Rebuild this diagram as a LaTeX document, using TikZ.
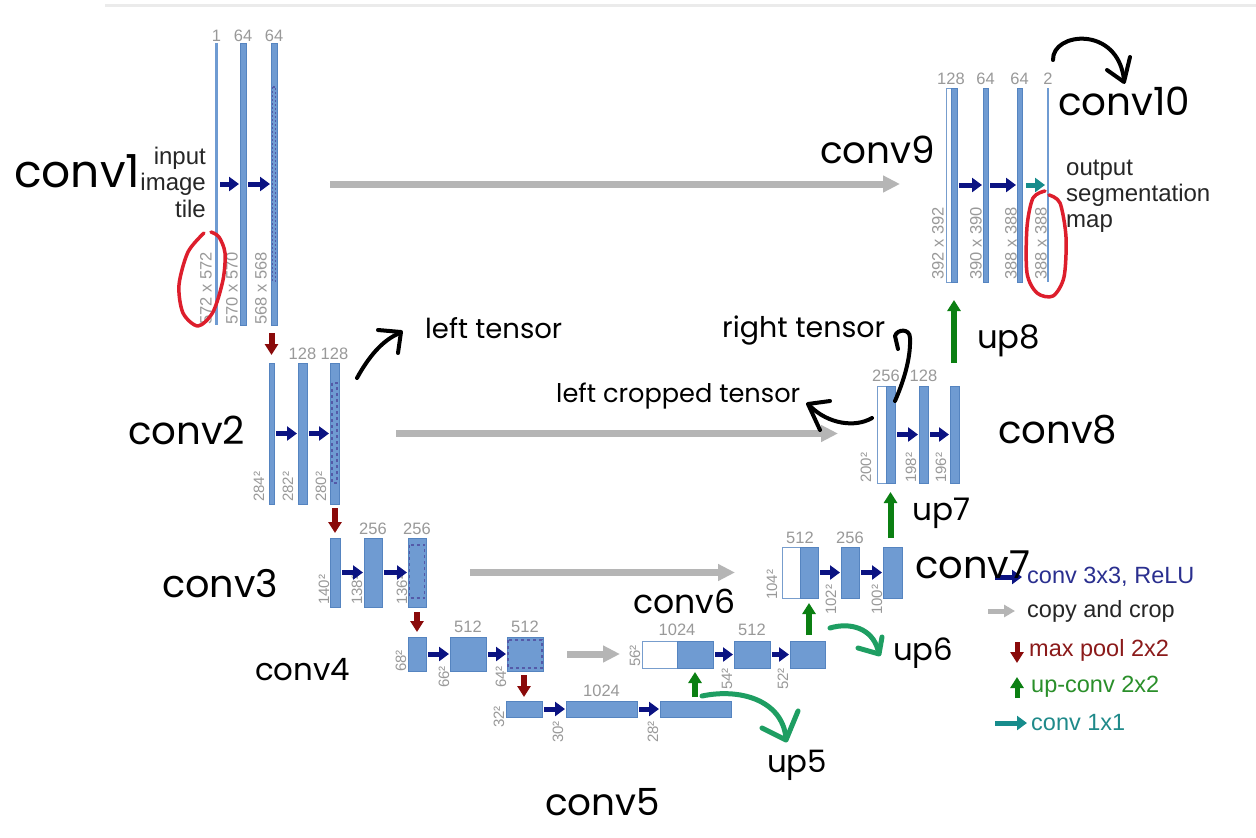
\documentclass[tikz,border=0pt]{standalone}
\usepackage{fontspec}
\usepackage{graphicx}
\setmainfont{Liberation Sans}
\newfontfamily\hand{Poppins}
\usetikzlibrary{arrows.meta,calc}
\definecolor{barfill}{HTML}{6F9BD2}
\definecolor{barline}{HTML}{5584C0}
\definecolor{lblgray}{HTML}{999999}
\definecolor{cnavy}{HTML}{0B1382}
\definecolor{cred}{HTML}{8A0A0A}
\definecolor{cgreen}{HTML}{0B7F12}
\definecolor{cteal}{HTML}{178C8C}
\definecolor{ccopy}{HTML}{B5B5B5}
\definecolor{annog}{HTML}{1E9E62}
\definecolor{annor}{HTML}{DD1E2C}
\definecolor{topline}{HTML}{EBEBEB}
\definecolor{lgnavy}{HTML}{2A2F8F}
\definecolor{lgred}{HTML}{8B1A1A}
\definecolor{lggreen}{HTML}{2A8F2A}
\definecolor{lgteal}{HTML}{1F8A8A}
\tikzset{
  blk/.style={draw=barline, fill=barfill, line width=0.8pt, inner sep=0pt, outer sep=0pt},
  thinblk/.style={fill=barfill, draw=none, inner sep=0pt, outer sep=0pt},
  wblk/.style={draw=barline!80, fill=white, line width=0.8pt, inner sep=0pt, outer sep=0pt},
  convarr/.style={draw=cnavy, line width=5pt, -{Triangle[length=10pt,width=14pt]}, shorten <=2pt, shorten >=1pt},
  onearr/.style={draw=cteal, line width=5pt, -{Triangle[length=10pt,width=14pt]}},
  copyarr/.style={draw=ccopy, line width=7pt, -{Triangle[length=17pt,width=16pt]}},
  lgcopyarr/.style={draw=ccopy, line width=5pt, -{Triangle[length=11pt,width=12pt]}},
  poolarr/.style={draw=cred, line width=6pt, -{Triangle[length=11pt,width=13pt]}},
  uparr/.style={draw=cgreen, line width=6pt, -{Triangle[length=11pt,width=13pt]}},
  tl/.style={anchor=south, inner sep=0pt, text=lblgray, font=\fontsize{16.5}{18}\selectfont},
  rl/.style={rotate=90, anchor=west, inner sep=0pt, text=lblgray, font=\fontsize{16.5}{18}\selectfont},
  rls/.style={rl, font=\fontsize{15}{17}\selectfont},
  hw/.style={anchor=base west, inner sep=0pt, text=black},
  anno/.style={draw=black, line width=4pt, line cap=round, line join=round},
  annogr/.style={draw=annog, line width=5pt, line cap=round, line join=round},
  annord/.style={draw=annor, line width=3.5pt, line cap=round, line join=round},
  lg/.style={anchor=west, inner sep=0pt, font=\fontsize{23.5}{26}\selectfont},
}
\newcommand\blkat[6][blk]{\node[#1, minimum width={(#4-#3)*1pt}, minimum height={(#6-#5)*1pt}] (#2) at ({(#3+#4)/2},{(#5+#6)/2}) {};}
\newcommand\hwt[2]{\resizebox{#1pt}{!}{\hand #2}}
\begin{document}
\begin{tikzpicture}[x=1pt,y=-1pt]
\fill[white] (0,0) rectangle (1256,838);
\useasboundingbox (0,0) rectangle (1256,838);
\draw[topline, line width=3pt] (105,5) -- (1256,5);

% ---------- blocks ----------
\blkat[thinblk]{b11}{215}{218}{43}{325}
\blkat{b12}{240}{246}{43}{325}
\blkat{b13}{271}{277}{43}{325}
\blkat{b21}{269}{274}{363}{504}
\blkat{b22}{298}{307}{363}{504}
\blkat{b23}{330}{339}{363}{504}
\blkat{b31}{330}{340}{538}{607}
\blkat{b32}{364}{382}{538}{607}
\blkat{b33}{408}{426}{538}{607}
\blkat{b41}{408}{426}{637}{671}
\blkat{b42}{450}{486}{637}{671}
\blkat{b43}{507}{543}{637}{671}
\blkat{b51}{506}{542}{701}{717}
\blkat{b52}{566}{637}{701}{717}
\blkat{b53}{660}{731}{701}{717}
\blkat[wblk]{w6}{642}{677}{641}{668}
\blkat{b61}{677}{713}{641}{668}
\blkat{b62}{734}{770}{641}{668}
\blkat{b63}{790}{825}{641}{668}
\blkat[wblk]{w7}{782}{800}{547}{598}
\blkat{b71}{800}{818}{547}{598}
\blkat{b72}{841}{859}{547}{598}
\blkat{b73}{883}{902}{547}{598}
\blkat[wblk]{w8}{877}{886}{386}{483}
\blkat{b81}{886}{895}{386}{483}
\blkat{b82}{919}{928}{386}{483}
\blkat{b83}{950}{959}{386}{483}
\blkat[wblk]{w9}{946}{951}{88}{282}
\blkat{b91}{951}{957}{88}{282}
\blkat{b92}{983}{988}{88}{282}
\blkat{b93}{1017}{1022}{88}{282}
\blkat[thinblk]{b94}{1047}{1049}{88}{282}

% crop regions (dashed)
\draw[cnavy!70, line width=1.2pt, dash pattern=on 2pt off 2pt] ($(b13.north west)+(1.5,44)$) rectangle ($(b13.south east)+(-1.5,-44)$);
\draw[cnavy!70, line width=1.2pt, dash pattern=on 3pt off 3pt] ($(b23.north west)+(2,20)$) rectangle ($(b23.south east)+(-2,-21)$);
\draw[cnavy!70, line width=1.2pt, dash pattern=on 3pt off 3pt] ($(b33.north west)+(1.5,7)$) rectangle ($(b33.south east)+(-1.5,-9)$);
\draw[cnavy!70, line width=1.2pt, dash pattern=on 3pt off 3pt] ($(b43.north west)+(1,3)$) rectangle ($(b43.south east)+(-1,-3)$);

% ---------- top labels ----------
\node[tl] (n11) at ($(b11.north)+(0,-1.5)$) {1};
\node[tl] (n12) at ($(b12.north)+(0,-1.5)$) {64};
\node[tl] (n13) at ($(b13.north)+(0,-1.5)$) {64};
\node[tl] (n22) at ($(b22.north)+(0,-3.5)$) {128};
\node[tl] (n23) at ($(b23.north)+(0,-3.5)$) {128};
\node[tl] (n32) at ($(b32.north)+(0,-3.5)$) {256};
\node[tl] (n33) at ($(b33.north)+(0,-3.5)$) {256};
\node[tl] (n42) at ($(b42.north)+(0,-4)$) {512};
\node[tl] (n43) at ($(b43.north)+(0,-4)$) {512};
\node[tl] (n52) at ($(b52.north)+(0,-4)$) {1024};
\node[tl] (n61) at ($(w6.north east)+(0,-5)$) {1024};
\node[tl] (n62) at ($(b62.north)+(0,-5)$) {512};
\node[tl] (n71) at ($(w7.north east)+(0,-3.5)$) {512};
\node[tl] (n72) at ($(b72.north)+(0,-3.5)$) {256};
\node[tl] (n81) at ($(w8.north east)+(0,-4.5)$) {256};
\node[tl] (n82) at ($(b82.north)+(0,-4.5)$) {128};
\node[tl] (n91) at ($(w9.north east)+(0,-3)$) {128};
\node[tl] (n92) at ($(b92.north)+(0,-3)$) {64};
\node[tl] (n93) at ($(b93.north)+(0,-3)$) {64};
\node[tl] (n94) at ($(b94.north)+(0,-3)$) {2};

% ---------- rotated size labels ----------
\node[rl] (r11) at (206,325) {572 x 572};
\node[rl] (r12) at (232,325) {570 x 570};
\node[rl] (r13) at (261,325) {568 x 568};
\node[rls] (r21) at (259,502) {284²};
\node[rls] (r22) at (288,502) {282²};
\node[rls] (r23) at (321,502) {280²};
\node[rls] (r31) at (324,605) {140²};
\node[rls] (r32) at (357,605) {138²};
\node[rls] (r33) at (402,605) {136²};
\node[rls] (r41) at (401,672) {68²};
\node[rls] (r42) at (444,688) {66²};
\node[rls] (r43) at (501,688) {64²};
\node[rls] (r51) at (499,728) {32²};
\node[rls] (r52) at (558,743) {30²};
\node[rls] (r53) at (653,743) {28²};
\node[rls] (r61) at (635,667) {56²};
\node[rls] (r62) at (727,690) {54²};
\node[rls] (r63) at (783,690) {52²};
\node[rls] (r71) at (772,600) {104²};
\node[rls] (r72) at (831,615) {102²};
\node[rls] (r73) at (877,615) {100²};
\node[rls] (r81) at (866,483) {200²};
\node[rls] (r82) at (911,483) {198²};
\node[rls] (r83) at (941,483) {196²};
\node[rl] (r91) at (938,280) {392 x 392};
\node[rl] (r92) at (976,280) {390 x 390};
\node[rl] (r93) at (1011,280) {388 x 388};
\node[rl] (r94) at (1041,280) {388 x 388};

% ---------- conv 3x3 arrows ----------
\draw[convarr] (b11.east) -- (b12.west);
\draw[convarr] (b12.east) -- (b13.west);
\draw[convarr] (b21.east) -- (b22.west);
\draw[convarr] (b22.east) -- (b23.west);
\draw[convarr] (b31.east) -- (b32.west);
\draw[convarr] (b32.east) -- (b33.west);
\draw[convarr] (b41.east) -- (b42.west);
\draw[convarr] (b42.east) -- (b43.west);
\draw[convarr] (b51.east) -- (b52.west);
\draw[convarr] (b52.east) -- (b53.west);
\draw[convarr] (b61.east) -- (b62.west);
\draw[convarr] (b62.east) -- (b63.west);
\draw[convarr] (b71.east) -- (b72.west);
\draw[convarr] (b72.east) -- (b73.west);
\draw[convarr] (b81.east) -- (b82.west);
\draw[convarr] (b82.east) -- (b83.west);
\draw[convarr] (b91.east) -- (b92.west);
\draw[convarr] (b92.east) -- (b93.west);
\draw[onearr, shorten <=4pt, shorten >=2pt] (b93.east) -- (b94.west);

% ---------- copy and crop ----------
\draw[copyarr, shorten <=53pt, shorten >=46pt] (b13.east) -- (b13.east -| w9.west);
\draw[copyarr, shorten <=57pt, shorten >=39pt] (b23.east) -- (b23.east -| w8.west);
\draw[copyarr, shorten <=44pt, shorten >=47pt] (b33.east) -- (b33.east -| w7.west);
\draw[copyarr, shorten <=24pt, shorten >=22pt] (b43.east) -- (b43.east -| w6.west);

% ---------- max pool ----------
\draw[poolarr, shorten <=8pt, shorten >=8pt] (b21.north |- b13.south) -- (b21.north);
\draw[poolarr, shorten <=4pt, shorten >=5pt] (b31.north |- b23.south) -- (b31.north);
\draw[poolarr, shorten <=5pt, shorten >=5pt] (b41.north |- b33.south) -- (b41.north);
\draw[poolarr, shorten <=4pt, shorten >=4pt] (b51.north |- b43.south) -- (b51.north);

% ---------- up-conv ----------
\draw[uparr, shorten <=4pt, shorten >=4pt] (b61.south |- b53.north) -- (b61.south);
\draw[uparr, shorten <=6pt, shorten >=5pt] (b71.south |- b63.north) -- (b71.south);
\draw[uparr, shorten <=9pt, shorten >=9pt] (b81.south |- b73.north) -- (b81.south);
\draw[uparr, shorten <=23pt, shorten >=18pt] (b91.south |- b83.north) -- (b91.south);

% ---------- texts ----------
\node[anchor=east, align=right, inner sep=0pt, font=\fontsize{24}{26.5}\selectfont, text=black!85] (inp) at (206,182) {input\\image\\tile};
\node[anchor=west, align=left, inner sep=0pt, font=\fontsize{24}{26}\selectfont, text=black!85] (outp) at (1066,196) {output\\segmentation\\map};

% ---------- legend ----------
\node[lg, text=lgnavy] (lg1) at (1027,577) {conv 3x3, ReLU};
\node[lg, text=black!85] (lg2) at (1027,611) {copy and crop};
\node[lg, text=lgred] (lg3) at (1029,650) {max pool 2x2};
\node[lg, text=lggreen] (lg4) at (1031,687) {up-conv 2x2};
\node[lg, text=lgteal] (lg5) at (1031,723) {conv 1x1};
\coordinate (la1) at (995,577);
\coordinate (la2) at (988,611);
\coordinate (la3a) at (1017,642);
\coordinate (la3b) at (1017,663);
\coordinate (la4a) at (1017,698);
\coordinate (la4b) at (1017,677);
\coordinate (la5) at (995,723);
\draw[convarr, shorten <=0pt, shorten >=5pt] (la1) -- (lg1.west);
\draw[lgcopyarr, shorten >=12pt] (la2) -- (lg2.west);
\draw[poolarr, line width=5pt] (la3a) -- (la3b);
\draw[uparr, line width=5pt] (la4a) -- (la4b);
\draw[onearr, shorten >=4pt] (la5) -- (lg5.west);

% ---------- handwritten annotations ----------
\node[hw] (h1) at (14,187) {\hwt{126}{conv1}};
\node[hw] (h2) at (128,444) {\hwt{117}{conv2}};
\node[hw] (h3) at (162,597) {\hwt{116}{conv3}};
\node[hw] (h4) at (255,680) {\hwt{95}{conv4}};
\node[hw] (h5) at (545,815) {\hwt{115}{conv5}};
\node[hw] (h6) at (633,613) {\hwt{102}{conv6}};
\node[hw] (h7) at (915,578) {\hwt{115}{conv7}};
\node[hw] (h8) at (998,443) {\hwt{119}{conv8}};
\node[hw] (h9) at (820,163) {\hwt{115}{conv9}};
\node[hw] (h10) at (1058,115) {\hwt{132}{conv10}};
\node[hw] (hlt) at (425,338) {\hwt{137}{left tensor}};
\node[hw] (hrt) at (722,337) {\hwt{163}{right tensor}};
\node[hw] (hlc) at (556,402) {\hwt{244}{left cropped tensor}};
\node[hw] (u5) at (767,772) {\hwt{60}{up5}};
\node[hw] (u6) at (893,660) {\hwt{60}{up6}};
\node[hw] (u7) at (912,520) {\hwt{58}{up7}};
\node[hw] (u8) at (977,348) {\hwt{63}{up8}};

% black arrows
\draw[anno] (357,378) .. controls (368,358) and (382,340) .. (400,333);
\draw[anno] (378,330) -- (401,332) -- (398,353);
\draw[anno] (895,401) .. controls (902,385) and (911,360) .. (910,338) .. controls (910,328) and (897,329) .. (895,336) -- (898,349);
\draw[anno] (872,418) .. controls (855,428) and (828,424) .. (810,406);
\draw[anno] (830,401) -- (808,404) -- (820,430);
\draw[anno] (1053,60) .. controls (1052,32) and (1118,25) .. (1124,80);
\draw[anno] (1107,70) -- (1124,82) -- (1130,57);

% green arrows
\draw[annogr] (830,628) .. controls (850,622) and (872,628) .. (878,650);
\draw[annogr] (858,648) -- (879,654) -- (882,637);
\draw[annogr] (702,696) .. controls (740,688) and (782,700) .. (786,738);
\draw[annogr] (762,728) -- (786,740) -- (798,711);

% red circles
\draw[annord] plot[smooth] coordinates {(204,233) (188,252) (179,285) (183,313) (198,326) (213,312) (223,280) (225,253) (219,237) (211,232)};
\draw[annord] plot[smooth] coordinates {(1045,191) (1033,198) (1027,227) (1027,273) (1037,293) (1053,296) (1064,277) (1066,237) (1060,203) (1049,195)};
\end{tikzpicture}
\end{document}
